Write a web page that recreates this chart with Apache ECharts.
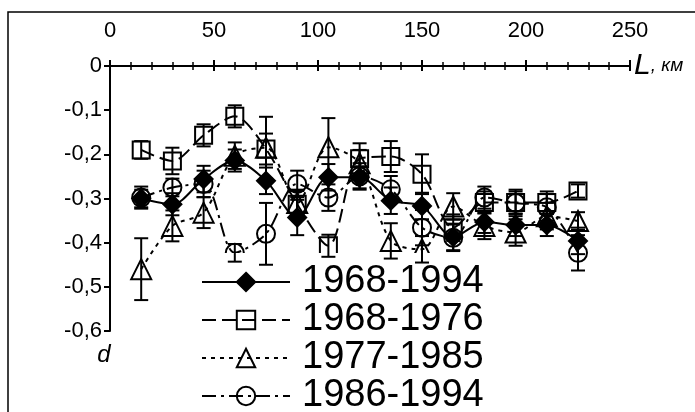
<!DOCTYPE html>
<html>
<head>
<meta charset="utf-8">
<script src="https://cdn.jsdelivr.net/npm/echarts@6/dist/echarts.min.js"></script>
<style>
html,body{margin:0;padding:0;background:#fff;}
#chart{width:695px;height:412px;}
</style>
</head>
<body>
<div id="chart"></div>
<script>
// расстояние, км
var distKm = [15, 30, 45, 60, 75, 90, 105, 120, 135, 150, 165, 180, 195, 210, 225];

// d по периодам
var d6894 = [-0.30, -0.313, -0.256, -0.214, -0.26, -0.343, -0.252, -0.252, -0.305, -0.317, -0.387, -0.353, -0.36, -0.36, -0.396];
var d6876 = [-0.19, -0.215, -0.157, -0.114, -0.188, -0.313, -0.407, -0.21, -0.205, -0.245, -0.366, -0.309, -0.309, -0.309, -0.283];
var d7785 = [-0.46, -0.362, -0.332, -0.203, -0.185, -0.31, -0.184, -0.22, -0.396, -0.415, -0.318, -0.362, -0.377, -0.34, -0.351];
var d8694 = [-0.298, -0.275, -0.267, -0.423, -0.38, -0.267, -0.298, -0.25, -0.279, -0.366, -0.389, -0.298, -0.31, -0.32, -0.423];

// полуширина доверительного интервала
var e6894 = [0.02, 0.025, 0.03, 0.025, 0.03, 0.04, 0.03, 0.025, 0.03, 0.03, 0.03, 0.025, 0.025, 0.025, 0.03];
var e6876 = [0.02, 0.03, 0.025, 0.025, 0.035, 0.03, 0.025, 0.035, 0.035, 0.045, 0.03, 0.025, 0.025, 0.025, 0.015];
var e7785 = [0.07, 0.035, 0.035, 0.03, 0.07, 0.03, 0.066, 0.03, 0.04, 0.03, 0.03, 0.03, 0.03, 0.03, 0.02];
var e8694 = [0.025, 0.02, 0.03, 0.02, 0.07, 0.03, 0.03, 0.03, 0.03, 0.04, 0.03, 0.025, 0.03, 0.03, 0.04];

var FONT = "'Liberation Sans', Arial, sans-serif";

function pairs(vals){
	var out = [];
	for (var i = 0; i < distKm.length; i++) out.push([distKm[i], vals[i]]);
	return out;
}
function bars(vals, errs){
	var out = [];
	for (var i = 0; i < distKm.length; i++) out.push([distKm[i], vals[i] - errs[i], vals[i] + errs[i]]);
	return out;
}

//усы погрешности
function renderErr(params, api){
	var x = api.value(0);
	var lo = api.coord([x, api.value(1)]);
	var hi = api.coord([x, api.value(2)]);
	var w = 7;
	var st = {stroke: '#000', lineWidth: 2};
	return {
		type: 'group',
		children: [
			{type: 'line', shape: {x1: lo[0], y1: lo[1], x2: hi[0], y2: hi[1]}, style: st},
			{type: 'line', shape: {x1: lo[0] - w, y1: lo[1], x2: lo[0] + w, y2: lo[1]}, style: st},
			{type: 'line', shape: {x1: hi[0] - w, y1: hi[1], x2: hi[0] + w, y2: hi[1]}, style: st}
		]
	};
}

function lineSeries(name, vals, symbol, size, fill, dash){
	return {
		name: name,
		type: 'line',
		xAxisIndex: 0,
		data: pairs(vals),
		symbol: symbol,
		symbolSize: size,
		showAllSymbol: true,
		smooth: 0.3,
		z: 3,
		lineStyle: {color: '#000', width: 2, type: dash},
		itemStyle: {color: fill, borderColor: '#000', borderWidth: 2}
	};
}
function errSeries(name, vals, errs){
	return {
		name: name,
		type: 'custom',
		xAxisIndex: 0,
		renderItem: renderErr,
		data: bars(vals, errs),
		z: 4,
		silent: true
	};
}

var chart = echarts.init(document.getElementById('chart'));
var option = {
	backgroundColor: '#fff',
	animation: false,
	graphic: [{
		type: 'rect',
		shape: {x: 8, y: 12, width: 720, height: 430},
		style: {fill: 'none', stroke: '#000', lineWidth: 1.5},
		z: -1
	}],
	grid: {left: 110, top: 66, right: 65, bottom: 81},
	legend: {
		data: ['1968-1994', '1968-1976', '1977-1985', '1986-1994'],
		orient: 'vertical',
		left: 195,
		top: 253,
		height: 200,
		padding: [10, 8, 2, 6],
		backgroundColor: '#fff',
		itemWidth: 88,
		itemHeight: 23,
		itemGap: 0,
		textStyle: {fontFamily: FONT, fontSize: 38, lineHeight: 37, color: '#000', padding: [0, 0, 0, 7]}
	},
	xAxis: [{
		type: 'value',
		position: 'top',
		min: 0,
		max: 250,
		interval: 50,
		name: '{a|L}{b|, км}',
		nameLocation: 'end',
		nameGap: 4,
		nameTextStyle: {
			rich: {
				a: {fontFamily: FONT, fontSize: 30, fontStyle: 'italic', color: '#000'},
				b: {fontFamily: FONT, fontSize: 19, fontStyle: 'italic', color: '#000'}
			}
		},
		axisLine: {lineStyle: {color: '#000', width: 2}},
		axisTick: {length: 6, lineStyle: {color: '#000', width: 2}},
		minorTick: {show: true, splitNumber: 5, length: 4, lineStyle: {color: '#000', width: 1.5}},
		axisLabel: {margin: 24, color: '#000', fontFamily: FONT, fontSize: 22},
		splitLine: {show: false}
	}, {
		type: 'value',
		position: 'top',
		min: 0,
		max: 250,
		interval: 50,
		axisLine: {show: false},
		axisTick: {inside: true, length: 5, lineStyle: {color: '#000', width: 2}},
		minorTick: {show: true, splitNumber: 5, length: 4, lineStyle: {color: '#000', width: 1.5}},
		axisLabel: {show: false},
		splitLine: {show: false}
	}],
	yAxis: {
		type: 'value',
		min: -0.6,
		max: 0,
		interval: 0.1,
		name: 'd',
		nameLocation: 'start',
		nameGap: 12,
		nameTextStyle: {fontFamily: FONT, fontSize: 24, fontStyle: 'italic', color: '#000', padding: [0, 12, 0, 0]},
		axisLine: {show: true, lineStyle: {color: '#000', width: 2}},
		axisTick: {show: true, length: 6, lineStyle: {color: '#000', width: 2}},
		axisLabel: {
			margin: 8,
			color: '#000',
			fontFamily: FONT,
			fontSize: 22,
			formatter: function(v){ return v === 0 ? '0' : (Math.round(v * 10) / 10).toString().replace('.', ','); }
		},
		splitLine: {show: false}
	},
	series: [
		errSeries('e1', d6894, e6894),
		errSeries('e2', d6876, e6876),
		errSeries('e3', d7785, e7785),
		errSeries('e4', d8694, e8694),
		lineSeries('1968-1994', d6894, 'diamond', 18, '#000', 'solid'),
		lineSeries('1968-1976', d6876, 'rect', 17, 'transparent', [14, 6]),
		lineSeries('1977-1985', d7785, 'triangle', 20, 'transparent', [4, 5]),
		lineSeries('1986-1994', d8694, 'circle', 18, 'transparent', [14, 5, 3, 5])
	]
};
chart.setOption(option);
</script>
</body>
</html>
